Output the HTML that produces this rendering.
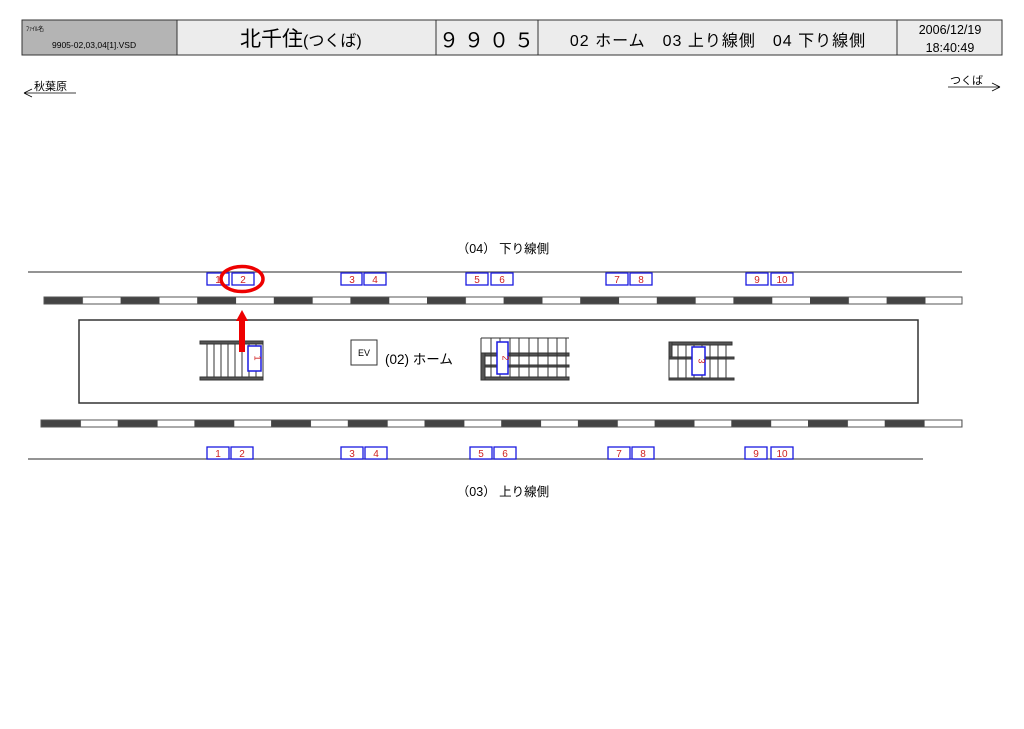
<!DOCTYPE html>
<html><head><meta charset="utf-8"><style>
body{margin:0;background:#fff;width:1024px;height:724px;overflow:hidden}
svg text{font-family:"Liberation Sans","Noto Sans CJK JP",sans-serif}
</style></head><body>
<svg width="1024" height="724" viewBox="0 0 1024 724" xmlns="http://www.w3.org/2000/svg">
<defs>
<pattern id="t1" x="44" y="0" width="76.6" height="10" patternUnits="userSpaceOnUse">
<rect x="0" y="0" width="39" height="10" fill="#444"/><rect x="39" y="0" width="37.6" height="10" fill="#fff"/>
</pattern>
<pattern id="t2" x="41" y="0" width="76.7" height="10" patternUnits="userSpaceOnUse">
<rect x="0" y="0" width="40" height="10" fill="#444"/><rect x="40" y="0" width="36.7" height="10" fill="#fff"/>
</pattern>
</defs>
<rect x="22" y="20" width="155" height="35" fill="#b4b4b4" stroke="#333"/>
<rect x="177" y="20" width="259" height="35" fill="#ececec" stroke="#333"/>
<rect x="436" y="20" width="102" height="35" fill="#ececec" stroke="#333"/>
<rect x="538" y="20" width="359" height="35" fill="#ececec" stroke="#333"/>
<rect x="897" y="20" width="105" height="35" fill="#ececec" stroke="#333"/>
<text x="26" y="31" font-size="6">ﾌｧｲﾙ名</text>
<text x="52" y="48" font-size="8.5">9905-02,03,04[1].VSD</text>
<text x="240" y="46" font-size="21">北千住<tspan font-size="16">(つくば)</tspan></text>
<text x="489" y="47" font-size="20" text-anchor="middle" letter-spacing="5">９９０５</text>
<text x="718" y="46" font-size="16" text-anchor="middle" letter-spacing="1">02 ホーム　03 上り線側　04 下り線側</text>
<text x="950" y="34" font-size="12.5" text-anchor="middle">2006/12/19</text>
<text x="950" y="52" font-size="12.5" text-anchor="middle">18:40:49</text>
<text x="34" y="90" font-size="11">秋葉原</text>
<path d="M24 93H76M24 93l8-4M24 93l8 4" stroke="#000" stroke-width="0.8" fill="none"/>
<text x="950" y="84" font-size="11">つくば</text>
<path d="M948 87H1000M1000 87l-8-4M1000 87l-8 4" stroke="#000" stroke-width="0.8" fill="none"/>
<text x="503" y="253" font-size="12.5" text-anchor="middle">（04）  下り線側</text>
<text x="503" y="496" font-size="12.5" text-anchor="middle">（03）  上り線側</text>
<line x1="28" y1="272" x2="962" y2="272" stroke="#555" stroke-width="1.2"/>
<line x1="28" y1="459" x2="923" y2="459" stroke="#555" stroke-width="1.2"/>
<rect x="44" y="297" width="918" height="7" fill="url(#t1)" stroke="#555" stroke-width="1"/>
<rect x="41" y="420" width="921" height="7" fill="url(#t2)" stroke="#555" stroke-width="1"/>
<g fill="#fff" stroke="#1a1ae0" stroke-width="1.3">
<rect x="207" y="273" width="22" height="12"/><rect x="232" y="273" width="22" height="12"/>
<rect x="341" y="273" width="21" height="12"/><rect x="364" y="273" width="22" height="12"/>
<rect x="466" y="273" width="22" height="12"/><rect x="491" y="273" width="22" height="12"/>
<rect x="606" y="273" width="22" height="12"/><rect x="630" y="273" width="22" height="12"/>
<rect x="746" y="273" width="22" height="12"/><rect x="771" y="273" width="22" height="12"/>
<rect x="207" y="447" width="22" height="12"/><rect x="231" y="447" width="22" height="12"/>
<rect x="341" y="447" width="22" height="12"/><rect x="365" y="447" width="22" height="12"/>
<rect x="470" y="447" width="22" height="12"/><rect x="494" y="447" width="22" height="12"/>
<rect x="608" y="447" width="22" height="12"/><rect x="632" y="447" width="22" height="12"/>
<rect x="745" y="447" width="22" height="12"/><rect x="771" y="447" width="22" height="12"/>
</g>
<g fill="#d02020" font-size="10" text-anchor="middle">
<text x="218" y="283">1</text><text x="243" y="283">2</text><text x="352" y="283">3</text><text x="375" y="283">4</text>
<text x="477" y="283">5</text><text x="502" y="283">6</text><text x="617" y="283">7</text><text x="641" y="283">8</text>
<text x="757" y="283">9</text><text x="782" y="283">10</text>
<text x="218" y="457">1</text><text x="242" y="457">2</text><text x="352" y="457">3</text><text x="376" y="457">4</text>
<text x="481" y="457">5</text><text x="505" y="457">6</text><text x="619" y="457">7</text><text x="643" y="457">8</text>
<text x="756" y="457">9</text><text x="782" y="457">10</text>
</g>
<ellipse cx="242" cy="279" rx="21" ry="12.5" fill="none" stroke="#e00" stroke-width="3.5"/>
<rect x="79" y="320" width="839" height="83" fill="#fff" stroke="#333" stroke-width="1.5"/>
<g stroke="#333" stroke-width="1">
<rect x="200" y="341" width="63" height="3" fill="#555"/><rect x="200" y="377" width="63" height="3" fill="#555"/>
<path d="M207 344V377M214 344V377M221 344V377M228 344V377M235 344V377M242 344V377M249 344V377M256 344V377M263 344V377"/>
</g>
<rect x="248" y="346" width="13" height="25" fill="#fff" stroke="#1a1ae0" stroke-width="1.5"/>
<text x="254.5" y="358" font-size="9" fill="#d02020" text-anchor="middle" transform="rotate(90 254.5 358)">1</text>
<rect x="239" y="320" width="6" height="32" fill="#e00"/>
<polygon points="236,321 242,310 248,321" fill="#e00"/>
<rect x="351" y="340" width="26" height="25" fill="#fff" stroke="#333"/>
<text x="364" y="356" font-size="9" text-anchor="middle">EV</text>
<text x="385" y="364" font-size="13.5">(02)  ホーム</text>
<g stroke="#333" stroke-width="1">
<line x1="481" y1="338" x2="569" y2="338"/>
<rect x="481" y="353" width="88" height="3" fill="#555"/>
<rect x="481" y="365" width="88" height="2" fill="#555"/>
<rect x="481" y="377" width="88" height="3" fill="#555"/>
<rect x="481" y="353" width="4" height="27" fill="#555"/>
<path d="M481 338V353M491 338V377M500 338V377M510 338V377M519 338V377M529 338V377M538 338V377M548 338V377M557 338V377M566 338V377"/>
</g>
<rect x="497" y="342" width="11" height="32" fill="#fff" stroke="#1a1ae0" stroke-width="1.5"/>
<text x="502.5" y="358" font-size="9" fill="#d02020" text-anchor="middle" transform="rotate(90 502.5 358)">2</text>
<g stroke="#333" stroke-width="1">
<rect x="669" y="342" width="63" height="3" fill="#555"/>
<rect x="669" y="342" width="3" height="16" fill="#555"/>
<rect x="669" y="357" width="65" height="2" fill="#555"/>
<rect x="669" y="378" width="65" height="2" fill="#555"/>
<path d="M678 345V378M686 345V378M694 345V378M702 345V378M710 345V378M718 345V378M726 345V378M669 359V378"/>
</g>
<rect x="692" y="347" width="13" height="28" fill="#fff" stroke="#1a1ae0" stroke-width="1.5"/>
<text x="698.5" y="361" font-size="9" fill="#d02020" text-anchor="middle" transform="rotate(90 698.5 361)">3</text>
</svg>
</body></html>
